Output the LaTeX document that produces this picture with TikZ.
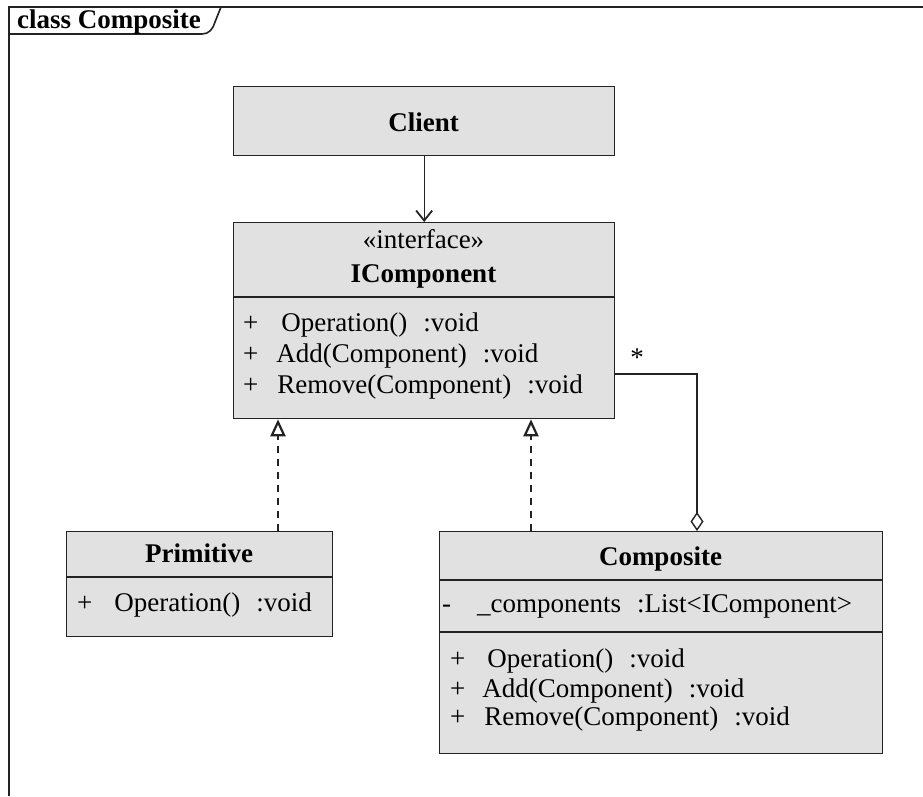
\documentclass[tikz,border=0pt]{standalone}
\usepackage{fontspec}
\setmainfont{Liberation Serif}
\usetikzlibrary{arrows.meta}

\definecolor{boxfill}{RGB}{225,225,225}
\definecolor{edgegray}{RGB}{35,35,35}
\newcommand{\umlsize}{\fontsize{27}{31}\selectfont}
\newcommand{\colgap}{\hspace{16pt}}

\tikzset{
  umlbox/.style={draw=edgegray,fill=boxfill,line width=1.3pt,inner sep=0pt,anchor=north west},
  umltext/.style={inner sep=0pt,anchor=base west,font=\umlsize},
  umltitle/.style={inner sep=0pt,anchor=base,font=\umlsize\bfseries},
  umlline/.style={draw=edgegray,line width=1.3pt},
  frameline/.style={draw=edgegray,line width=1.6pt},
  assoc/.style={umlline,-{Straight Barb[length=10pt,width=16pt,line width=1.8pt]}},
  realize/.style={umlline,dash pattern=on 7pt off 6pt,-{Triangle[open,length=17pt,width=15pt,line width=2.2pt]}},
  aggregate/.style={umlline,-{Diamond[open,length=19pt,width=13pt,line width=1.4pt]}}
}

\begin{document}
\begin{tikzpicture}[x=1pt,y=-1pt]
    \useasboundingbox (0,0) rectangle (923,796);
    % frame and its tab
    \draw[frameline] (923,7) -- (9,7) -- (9,796);
    \draw[frameline] (9,34) -- (202,34) .. controls (209,34) and (213,29) .. (215,22) -- (221,7);
    \node[umltext,font=\umlsize\bfseries] (frametitle) at (17,28) {class Composite};

    % class boxes
    \node[umlbox,minimum width=381pt,minimum height=69pt] (client) at (233,86) {};
    \node[umlbox,minimum width=381pt,minimum height=196pt] (icomp) at (233,222) {};
    \node[umlbox,minimum width=266pt,minimum height=105pt] (prim) at (66,531) {};
    \node[umlbox,minimum width=443pt,minimum height=222pt] (comp) at (439,531) {};

    % compartments
    \draw[umlline] ([yshift=-75pt]icomp.north west) -- ([yshift=-75pt]icomp.north east);
    \draw[umlline] ([yshift=-46pt]prim.north west) -- ([yshift=-46pt]prim.north east);
    \draw[umlline] ([yshift=-49pt]comp.north west) -- ([yshift=-49pt]comp.north east);
    \draw[umlline] ([yshift=-101pt]comp.north west) -- ([yshift=-101pt]comp.north east);

    % Client
    \node[umltitle] (clientname) at (423.5,131) {Client};

    % IComponent
    \node[umltext,anchor=base] (stereo) at (423.5,248) {«interface»};
    \node[umltitle] (icompname) at (423.5,282) {IComponent};
    \node[umltext] (iop1) at (243,331) {+\hspace{23pt}Operation()\colgap:void};
    \node[umltext] (iop2) at (243,362) {+\hspace{18pt}Add(Component)\colgap:void};
    \node[umltext] (iop3) at (243,393) {+\hspace{19pt}Remove(Component)\colgap:void};

    % Primitive
    \node[umltitle] (primname) at (199,562) {Primitive};
    \node[umltext] (pop1) at (77,611) {+\hspace{22pt}Operation()\colgap:void};

    % Composite
    \node[umltitle] (compname) at (660.5,565) {Composite};
    \node[umltext] (cattr) at (442,612) {-\hspace{26pt}\_components\colgap:List<IComponent>};
    \node[umltext] (cop1) at (450,667) {+\hspace{22pt}Operation()\colgap:void};
    \node[umltext] (cop2) at (450,697) {+\hspace{17pt}Add(Component)\colgap:void};
    \node[umltext] (cop3) at (450,725) {+\hspace{19pt}Remove(Component)\colgap:void};

    % connectors
    \coordinate (primx) at (278,0);
    \coordinate (compx) at (531,0);
    \coordinate (aggcorner) at (697,374);
    \draw[assoc] (client.south) -- (icomp.north);
    \draw[realize] (prim.north -| primx) -- (icomp.south -| primx);
    \draw[realize] (comp.north -| compx) -- (icomp.south -| compx);
    \draw[aggregate] (icomp.east |- aggcorner) -- (aggcorner) -- (aggcorner |- comp.north);
    \node[umltext,anchor=base] (mult) at (637,366) {*};
\end{tikzpicture}
\end{document}
